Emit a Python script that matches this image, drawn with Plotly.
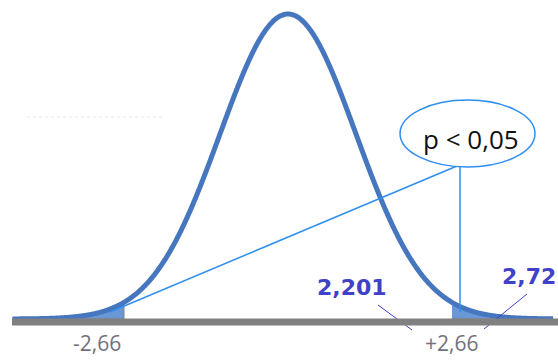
import numpy as np
import plotly.graph_objects as go

# values shown on the chart
crit_value = 2.66                 # two-sided critical value (shaded tails)
tick_labels = ["-2,66", "+2,66"]
t_labels = ["2,201", "2,72"]
p_label = "p < 0,05"
curve_sd = 1.103                  # spread of the bell curve in axis units
curve_span = (-4.47, 4.30)

# canvas and axis geometry
W, H = 558, 361
X0, X1 = -288 / 61.65, 270 / 61.65
peak = 1.0 / (curve_sd * np.sqrt(2 * np.pi))
ky = 305.0 / peak
Y0, Y1 = -42.0 / ky, 319.0 / ky


def dx(px):
    return X0 + px / W * (X1 - X0)


def dy(py):
    return Y1 - py / H * (Y1 - Y0)


def density(x):
    return peak * np.exp(-0.5 * (x / curve_sd) ** 2)


CURVE = "#4677be"
TAIL = "#6a97d6"
LINK = "#2e8ff0"
TLAB = "#4040c8"
GREY = "#808080"
REG_FONT = "Open Sans, Noto Sans, DejaVu Sans"

x = np.linspace(curve_span[0], curve_span[1], 600)
y = density(x)

fig = go.Figure()

# shaded rejection regions
for side in (-1, 1):
    if side < 0:
        xs = np.linspace(curve_span[0], -crit_value, 120)
    else:
        xs = np.linspace(crit_value, curve_span[1], 120)
    ys = density(xs)
    px_ = np.concatenate([xs, xs[::-1]])
    py_ = np.concatenate([ys, np.zeros_like(ys)])
    fig.add_trace(go.Scatter(x=px_, y=py_, mode="lines", fill="toself",
                             fillcolor=TAIL, line=dict(color=GREY, width=1),
                             hoverinfo="skip", showlegend=False))

# bell curve
fig.add_trace(go.Scatter(x=x, y=y, mode="lines",
                         line=dict(color=CURVE, width=5, shape="spline"),
                         hoverinfo="skip", showlegend=False))

# small pointer strokes under the t labels (partly hidden by the axis bar)
for (a, b, c, d) in [(378, 305, 412, 330), (527, 294, 484, 329)]:
    fig.add_trace(go.Scatter(x=[dx(a), dx(c)], y=[dy(b), dy(d)], mode="lines",
                             line=dict(color=TLAB, width=1),
                             hoverinfo="skip", showlegend=False))

# horizontal axis bar
fig.add_trace(go.Scatter(x=[dx(12), dx(558)], y=[dy(322), dy(322)], mode="lines",
                         line=dict(color=GREY, width=7),
                         hoverinfo="skip", showlegend=False))

shapes = [
    # faint dotted guide
    dict(type="line", x0=dx(27), x1=dx(165), y0=dy(117), y1=dy(117),
         line=dict(color="#f3f3f3", width=2, dash="dot")),
    # connectors from the callout
    dict(type="line", x0=dx(457), y0=dy(166), x1=dx(110), y1=dy(312),
         line=dict(color=LINK, width=1.5)),
    dict(type="line", x0=dx(460), y0=dy(166), x1=dx(460), y1=dy(312),
         line=dict(color=LINK, width=1.5)),
    # callout ellipse
    dict(type="circle", x0=dx(400), x1=dx(535), y0=dy(167), y1=dy(100),
         fillcolor="white", line=dict(color=LINK, width=1.5)),
]

annotations = [
    dict(x=-crit_value, y=dy(343), text=tick_labels[0], xanchor="right", yanchor="middle",
         xshift=-1, showarrow=False,
         font=dict(family=REG_FONT, size=21, color="#72727c")),
    dict(x=crit_value, y=dy(343), text=tick_labels[1], xanchor="center", yanchor="middle",
         showarrow=False,
         font=dict(family=REG_FONT, size=21, color="#72727c")),
    dict(x=dx(352), y=dy(287), text="<b>" + t_labels[0] + "</b>", xanchor="center",
         yanchor="middle", showarrow=False,
         font=dict(family="DejaVu Sans", size=22, color=TLAB)),
    dict(x=dx(500), y=dy(276), text="<b>" + t_labels[1] + "</b>", xanchor="left",
         yanchor="middle", showarrow=False,
         font=dict(family="DejaVu Sans", size=22, color=TLAB)),
    dict(x=dx(471), y=dy(139), text=p_label, xanchor="center", yanchor="middle",
         showarrow=False,
         font=dict(family=REG_FONT, size=26, color="#111111")),
]

fig.update_layout(
    width=W, height=H,
    margin=dict(l=0, r=0, t=0, b=0),
    paper_bgcolor="white", plot_bgcolor="white",
    xaxis=dict(range=[X0, X1], visible=False, fixedrange=True),
    yaxis=dict(range=[Y0, Y1], visible=False, fixedrange=True),
    shapes=shapes, annotations=annotations,
    showlegend=False,
)

fig.write_html("out.html", config={"displayModeBar": False})
